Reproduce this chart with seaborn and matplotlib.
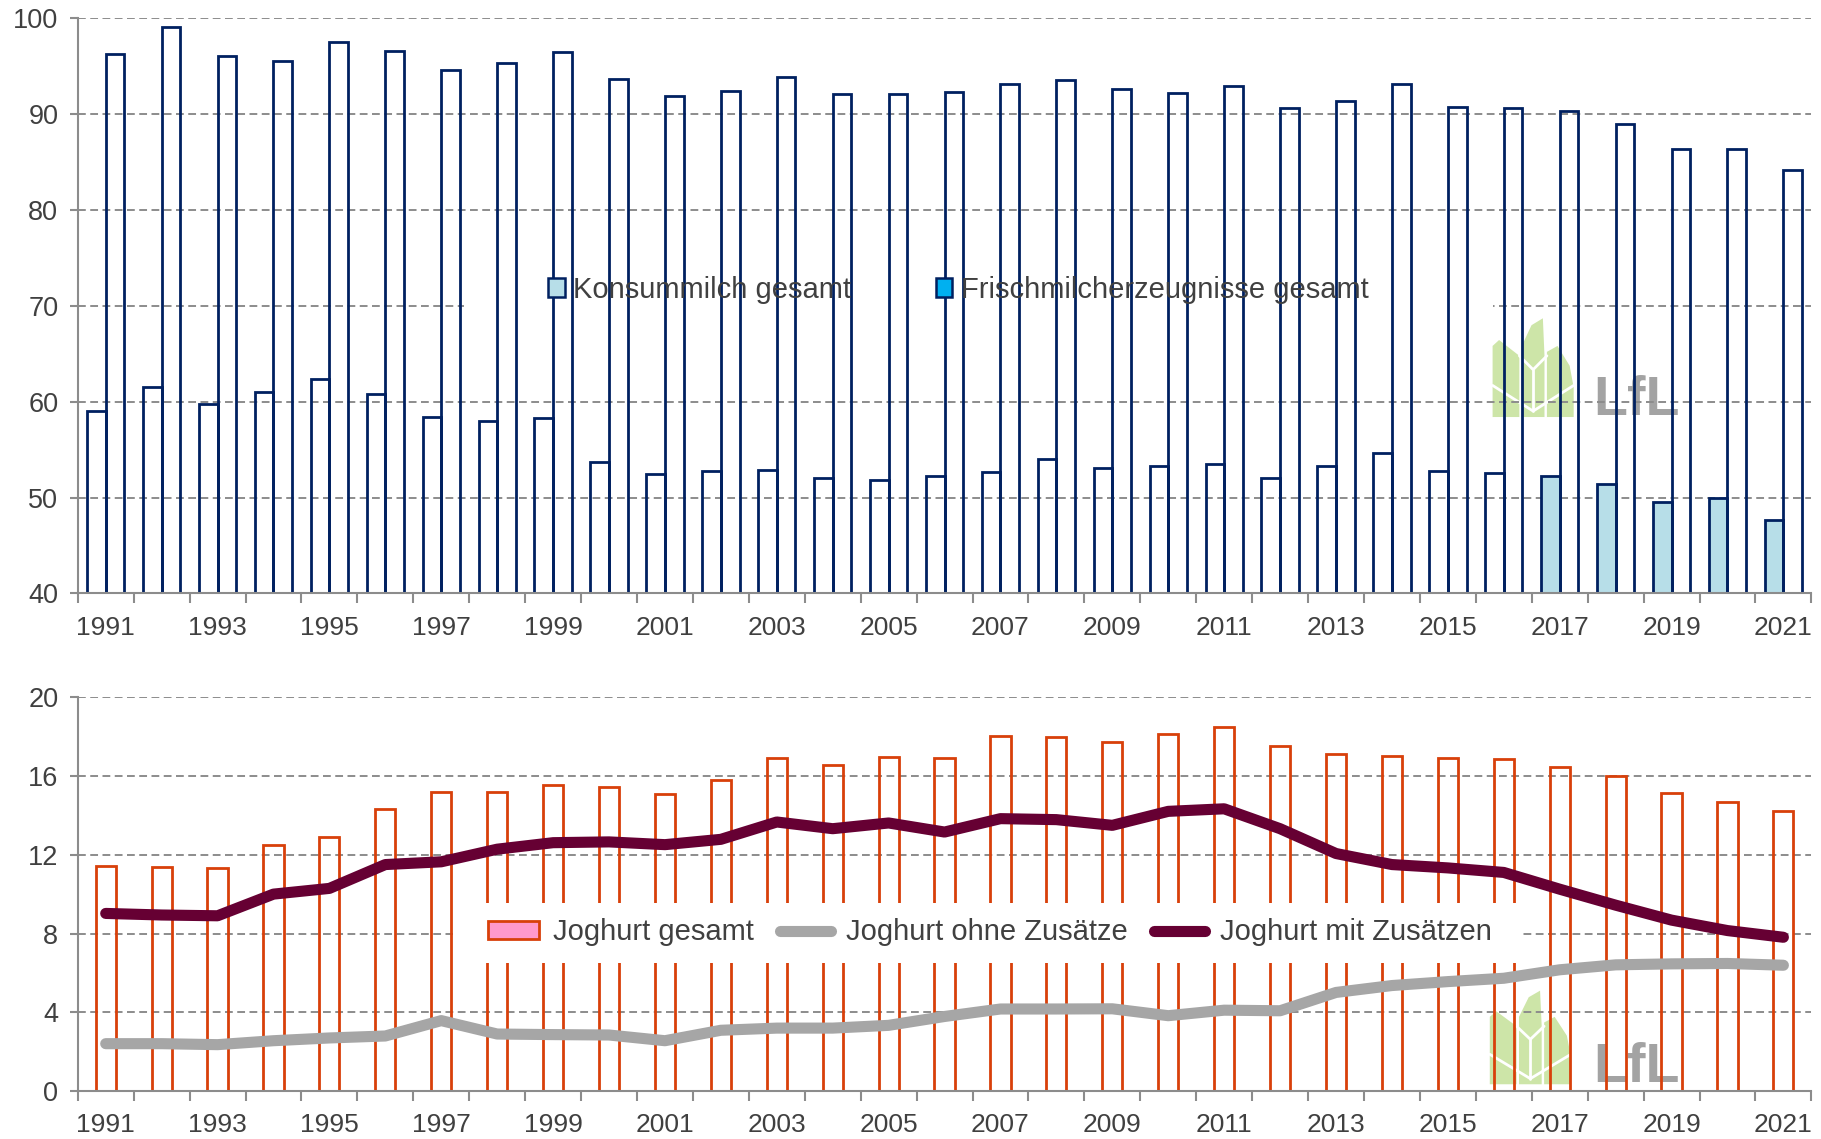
import matplotlib
matplotlib.use('Agg')

import matplotlib.pyplot as plt
import seaborn as sns
import pandas as pd
import numpy as np
from matplotlib.patches import Patch, Rectangle, Polygon
from matplotlib.lines import Line2D

# Daten (kg pro Kopf)
jahre = list(range(1991, 2022))
konsummilch = [59.0, 61.5, 59.8, 61.0, 62.4, 60.8, 58.4, 58.0, 58.3, 53.7,
               52.5, 52.8, 52.9, 52.0, 51.8, 52.2, 52.7, 54.0, 53.1, 53.3,
               53.5, 52.0, 53.3, 54.6, 52.8, 52.6, 52.2, 51.4, 49.5, 50.0, 47.7]
frischmilch = [96.3, 99.1, 96.1, 95.5, 97.5, 96.6, 94.6, 95.3, 96.5, 93.7,
               91.9, 92.4, 93.9, 92.1, 92.1, 92.3, 93.1, 93.6, 92.6, 92.2,
               92.9, 90.6, 91.4, 93.1, 90.7, 90.6, 90.3, 89.0, 86.4, 86.4, 84.2]
joghurt_gesamt = [11.45, 11.38, 11.30, 12.51, 12.92, 14.30, 15.19, 15.18, 15.53, 15.43,
                  15.09, 15.80, 16.93, 16.56, 16.98, 16.93, 18.03, 17.96, 17.74, 18.13,
                  18.48, 17.52, 17.10, 17.02, 16.93, 16.86, 16.46, 15.99, 15.14, 14.65, 14.22]
joghurt_ohne = [2.41, 2.41, 2.36, 2.56, 2.70, 2.80, 3.58, 2.90, 2.87, 2.85,
                2.56, 3.09, 3.20, 3.20, 3.34, 3.79, 4.17, 4.17, 4.18, 3.83,
                4.11, 4.08, 5.01, 5.36, 5.56, 5.73, 6.16, 6.41, 6.46, 6.48, 6.39]
joghurt_mit = [9.02, 8.94, 8.90, 10.00, 10.29, 11.50, 11.64, 12.28, 12.61, 12.65,
               12.51, 12.78, 13.66, 13.32, 13.61, 13.15, 13.83, 13.78, 13.49, 14.20,
               14.33, 13.32, 12.06, 11.50, 11.33, 11.10, 10.25, 9.44, 8.68, 8.15, 7.81]

labels_top = ['Konsummilch gesamt', 'Frischmilcherzeugnisse gesamt']
labels_bottom = ['Joghurt gesamt', 'Joghurt ohne Zusätze', 'Joghurt mit Zusätzen']

navy = '#002060'
hellblau = '#B7DEE8'
blau = '#00B0F0'
orange = '#D8400A'
rosa = '#FF99CC'
grau_linie = '#A6A6A6'
bordeaux = '#660033'
grid_c = '#8C8C8C'
text_c = '#404040'

sns.set_theme(style='ticks')
plt.rcParams['font.family'] = ['Liberation Sans', 'DejaVu Sans']

fig = plt.figure(figsize=(18.21, 11.39), dpi=100)
ax1 = fig.add_axes([0.0427, 0.479, 0.952, 0.505])
ax2 = fig.add_axes([0.0427, 0.042, 0.952, 0.346])

x_pos = np.arange(len(jahre))
jahre_str = [str(j) for j in jahre]


def logo(ax, x0, x1, y0, y1, tx, ty):
    w = x1 - x0
    h = y1 - y0
    shapes = [
        [(0.0, 0.0), (0.0, 0.72), (0.08, 0.78), (0.33, 0.62), (0.33, 0.0)],
        [(0.36, 0.0), (0.36, 0.72), (0.48, 0.93), (0.62, 1.0), (0.64, 0.62), (0.64, 0.0)],
        [(0.67, 0.0), (0.67, 0.66), (0.8, 0.72), (0.95, 0.52), (1.0, 0.3), (1.0, 0.0)],
    ]
    for s in shapes:
        pts = [(x0 + a * w, y0 + b * h) for a, b in s]
        ax.add_patch(Polygon(pts, closed=True, fc='#CDE5A8', ec='none', zorder=0.3))
    for seg in [[(0.0, 0.32), (0.5, 0.06), (1.0, 0.32)], [(0.33, 0.62), (0.5, 0.48), (0.67, 0.62)],
                [(0.5, 0.06), (0.5, 0.48)]]:
        ax.plot([x0 + a * w for a, b in seg], [y0 + b * h for a, b in seg],
                color='white', lw=2, zorder=0.35)
    ax.text(tx, ty, 'LfL', fontsize=40, fontweight='bold', color='#A3A3A3',
            zorder=0.3, va='baseline', ha='left')


def style_axis(ax):
    ax.set_xlim(-0.5, len(jahre) - 0.5)
    ax.set_xticks(np.arange(-0.5, len(jahre), 1))
    ax.set_xticklabels([])
    ax.set_xticks(x_pos[::2], minor=True)
    ax.set_xticklabels(jahre_str[::2], minor=True)
    ax.tick_params(axis='x', which='major', length=7, width=1.5, color=grid_c, direction='out')
    ax.tick_params(axis='x', which='minor', length=0, pad=16, labelsize=19, labelcolor=text_c)
    ax.tick_params(axis='y', length=6, width=1.5, color=grid_c, direction='out', pad=8,
                   labelsize=19.5, labelcolor=text_c)
    ax.set_axisbelow(True)
    ax.yaxis.grid(True, linestyle=(0, (4, 2.3)), color=grid_c, linewidth=1.4)
    ax.xaxis.grid(False)
    for s in ['top', 'right']:
        ax.spines[s].set_visible(False)
    for s in ['left', 'bottom']:
        ax.spines[s].set_color(grid_c)
        ax.spines[s].set_linewidth(1.5)
    ax.set_xlabel('')
    ax.set_ylabel('')


# Oberes Diagramm: Konsummilch / Frischmilcherzeugnisse
df_top = pd.DataFrame({
    'Jahr': jahre_str * 2,
    'Wert': konsummilch + frischmilch,
    'Serie': [labels_top[0]] * len(jahre) + [labels_top[1]] * len(jahre),
})
sns.barplot(data=df_top, x='Jahr', y='Wert', hue='Serie', hue_order=labels_top,
            width=0.667, dodge=True, legend=False, ax=ax1, zorder=1)
for i, bar in enumerate(ax1.containers[0]):
    bar.set_facecolor(hellblau if jahre[i] >= 2017 else 'none')
    bar.set_edgecolor(navy)
    bar.set_linewidth(2.0)
for bar in ax1.containers[1]:
    bar.set_facecolor('none')
    bar.set_edgecolor(navy)
    bar.set_linewidth(2.0)

ax1.add_patch(Rectangle((6.4, 67.2), 18.4, 5.6, fc='white', ec='none', zorder=0.8))
logo(ax1, 24.8, 26.25, 58.4, 68.7, 26.6, 58.6)
style_axis(ax1)
ax1.set_ylim(40, 100)
ax1.set_yticks(np.arange(40, 101, 10))

h_top = [Patch(fc=hellblau, ec=navy, lw=1.8), Patch(fc=blau, ec=navy, lw=1.8)]
leg1 = ax1.legend(h_top, labels_top, loc='center', bbox_to_anchor=(0.508, 0.528), ncol=2,
                  frameon=False, fontsize=21, handlelength=0.55, handleheight=0.65,
                  handletextpad=0.3, columnspacing=2.9, borderpad=0.2)
for t in leg1.get_texts():
    t.set_color(text_c)
leg1.set_zorder(5)

# Unteres Diagramm: Joghurt
df_bot = pd.DataFrame({'Jahr': jahre_str, 'gesamt': joghurt_gesamt,
                       'ohne': joghurt_ohne, 'mit': joghurt_mit, 'pos': x_pos})
sns.barplot(data=df_bot, x='Jahr', y='gesamt', width=0.36, ax=ax2, zorder=1)
for bar in ax2.containers[0]:
    bar.set_facecolor('none')
    bar.set_edgecolor(orange)
    bar.set_linewidth(2.0)
sns.lineplot(data=df_bot, x='pos', y='ohne', color=grau_linie, lw=8, ax=ax2,
             solid_capstyle='round', zorder=4)
sns.lineplot(data=df_bot, x='pos', y='mit', color=bordeaux, lw=8, ax=ax2,
             solid_capstyle='round', zorder=4)

ax2.add_patch(Rectangle((6.21, 6.5), 19.1, 3.05, fc='white', ec='none', zorder=3))
logo(ax2, 24.75, 26.2, 0.35, 5.1, 26.6, 0.45)
style_axis(ax2)
ax2.set_ylim(0, 20)
ax2.set_yticks(np.arange(0, 21, 4))

h_bot = [Patch(fc=rosa, ec=orange, lw=2),
         Line2D([0], [0], color=grau_linie, lw=8, solid_capstyle='round'),
         Line2D([0], [0], color=bordeaux, lw=8, solid_capstyle='round')]
leg2 = ax2.legend(h_bot, labels_bottom, loc='center', bbox_to_anchor=(0.526, 0.403), ncol=3,
                  frameon=False, fontsize=21, handlelength=1.75, handleheight=0.6,
                  handletextpad=0.5, columnspacing=0.9, borderpad=0.2)
for t in leg2.get_texts():
    t.set_color(text_c)
leg2.set_zorder(5)

fig.savefig('out.png', dpi=100)
